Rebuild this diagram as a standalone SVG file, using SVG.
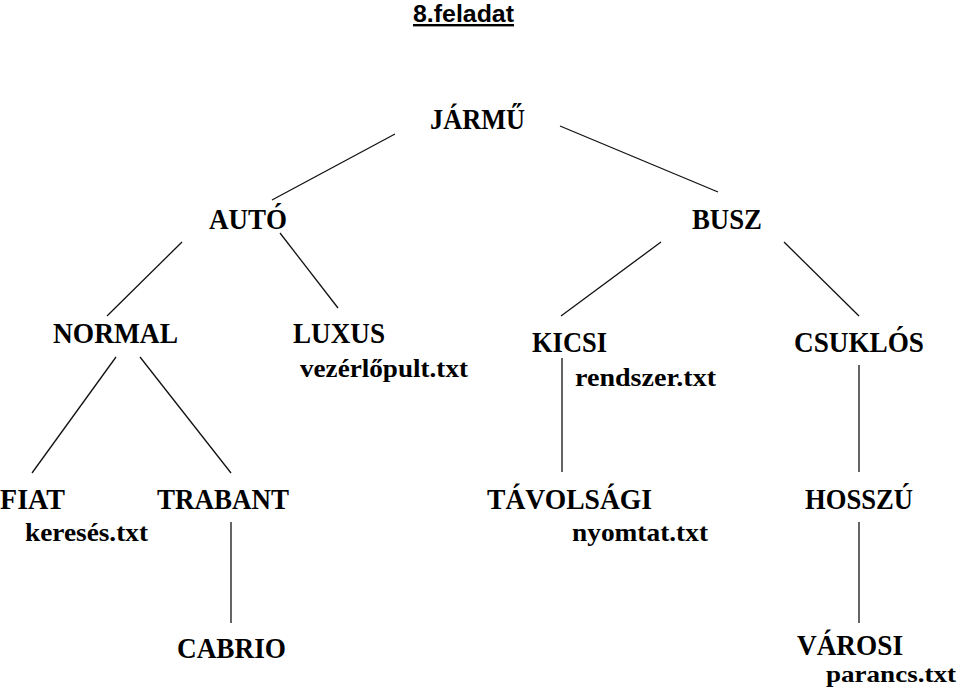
<svg xmlns="http://www.w3.org/2000/svg" width="960" height="688" viewBox="0 0 960 688">
<style>
.n{font-family:"Liberation Serif","Times New Roman",serif;font-weight:bold;font-size:29px;fill:#000}
.f{font-family:"Liberation Serif","Times New Roman",serif;font-weight:bold;font-size:26px;fill:#000}
.p{font-family:"Liberation Serif","Times New Roman",serif;font-weight:bold;font-size:24px;fill:#000}
.t{font-family:"Liberation Sans",Arial,sans-serif;font-weight:bold;font-size:24px;fill:#000;text-decoration:underline}
#connectors line{stroke:#111;stroke-width:1.3}
</style>
<rect width="960" height="688" fill="#fff"/>
<text id="title" class="t" x="413" y="22" textLength="101" lengthAdjust="spacingAndGlyphs">8.feladat</text>
<g id="connectors">
<line x1="395" y1="134" x2="272" y2="200"/>
<line x1="560" y1="126" x2="718" y2="192"/>
<line x1="182" y1="242" x2="107" y2="316"/>
<line x1="280" y1="233" x2="338" y2="308"/>
<line x1="661" y1="242" x2="561" y2="316"/>
<line x1="784" y1="242" x2="859" y2="316"/>
<line x1="116" y1="357" x2="32" y2="473"/>
<line x1="140" y1="357" x2="231" y2="473"/>
<line x1="562" y1="358" x2="562" y2="472"/>
<line x1="859" y1="365" x2="859" y2="472"/>
<line x1="231" y1="522" x2="231" y2="623"/>
<line x1="859" y1="522" x2="859" y2="623"/>
</g>
<g id="jarmu"><text class="n" x="430" y="129" textLength="95" lengthAdjust="spacingAndGlyphs">JÁRMŰ</text></g>
<g id="auto"><text class="n" x="209" y="229" textLength="78" lengthAdjust="spacingAndGlyphs">AUTÓ</text></g>
<g id="busz"><text class="n" x="692" y="229" textLength="70" lengthAdjust="spacingAndGlyphs">BUSZ</text></g>
<g id="normal"><text class="n" x="53" y="343" textLength="125" lengthAdjust="spacingAndGlyphs">NORMAL</text></g>
<g id="luxus"><text class="n" x="293" y="343" textLength="92" lengthAdjust="spacingAndGlyphs">LUXUS</text><text class="f" x="300" y="377" textLength="168" lengthAdjust="spacingAndGlyphs">vezérlőpult.txt</text></g>
<g id="kicsi"><text class="n" x="532" y="352" textLength="75" lengthAdjust="spacingAndGlyphs">KICSI</text><text class="f" x="575" y="386" textLength="141" lengthAdjust="spacingAndGlyphs">rendszer.txt</text></g>
<g id="csuklos"><text class="n" x="794" y="352" textLength="130" lengthAdjust="spacingAndGlyphs">CSUKLÓS</text></g>
<g id="fiat"><text class="n" x="0" y="509" textLength="65" lengthAdjust="spacingAndGlyphs">FIAT</text><text class="f" x="25" y="541" textLength="123" lengthAdjust="spacingAndGlyphs">keresés.txt</text></g>
<g id="trabant"><text class="n" x="157" y="509" textLength="132" lengthAdjust="spacingAndGlyphs">TRABANT</text></g>
<g id="tavolsagi"><text class="n" x="487" y="509" textLength="165" lengthAdjust="spacingAndGlyphs">TÁVOLSÁGI</text><text class="f" x="572" y="541" textLength="136" lengthAdjust="spacingAndGlyphs">nyomtat.txt</text></g>
<g id="hosszu"><text class="n" x="805" y="509" textLength="108" lengthAdjust="spacingAndGlyphs">HOSSZÚ</text></g>
<g id="cabrio"><text class="n" x="177" y="658" textLength="109" lengthAdjust="spacingAndGlyphs">CABRIO</text></g>
<g id="varosi"><text class="n" x="797" y="655" textLength="106" lengthAdjust="spacingAndGlyphs">VÁROSI</text><text class="p" x="826" y="682" textLength="130" lengthAdjust="spacingAndGlyphs">parancs.txt</text></g>
</svg>
